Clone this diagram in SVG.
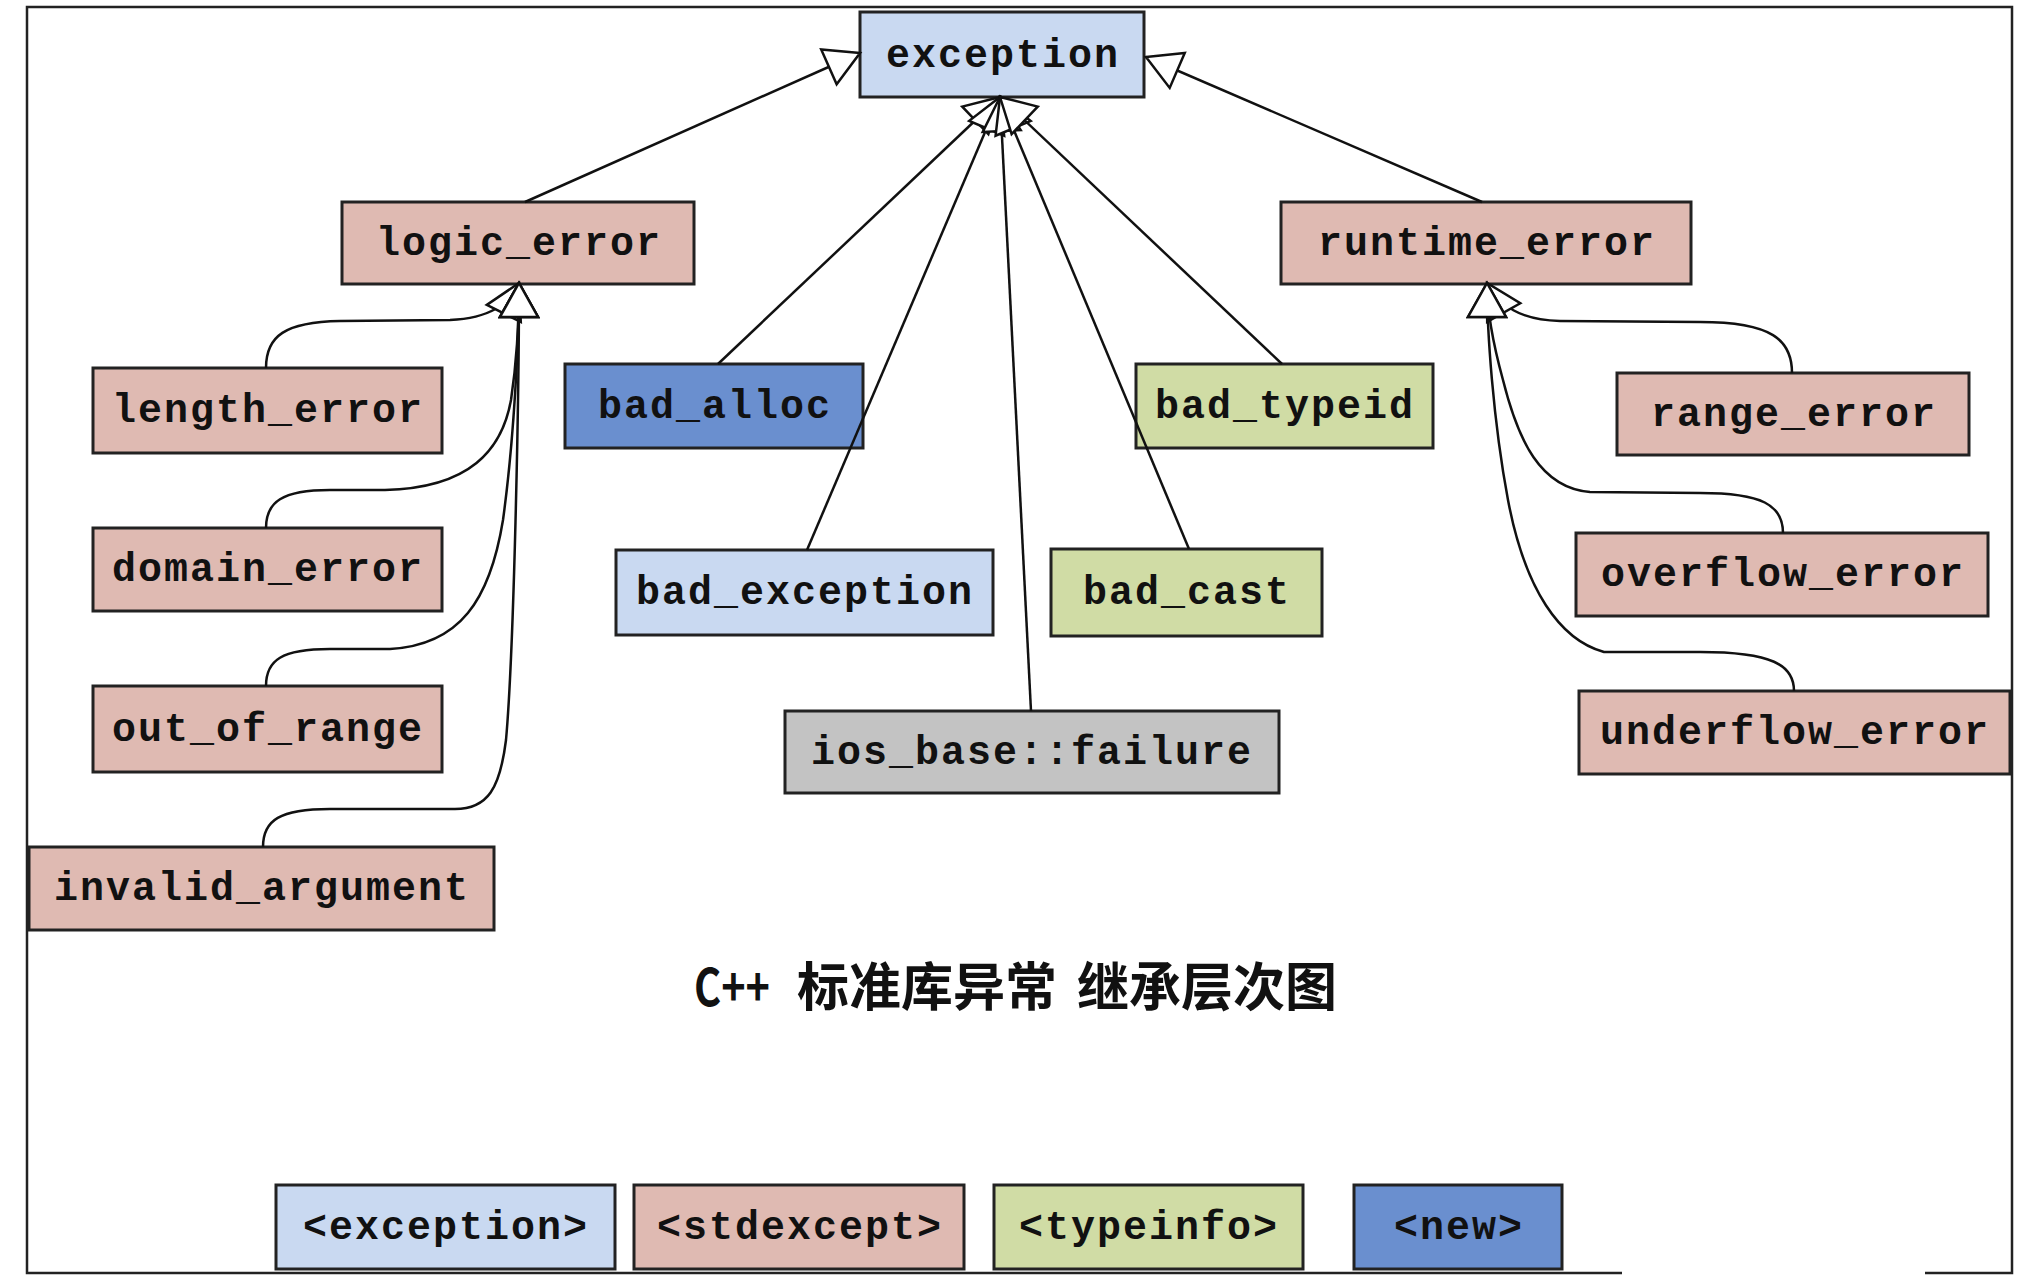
<svg xmlns="http://www.w3.org/2000/svg" width="2038" height="1288" viewBox="0 0 2038 1288">
<style>
.box{stroke:#222;stroke-width:3}
.lb{fill:#c9d9f1}
.pk{fill:#dfbab2}
.gr{fill:#d0dca5}
.bl{fill:#6a8fcf}
.gy{fill:#c3c3c3}
.t{font-family:"Liberation Mono","DejaVu Sans Mono",monospace;font-weight:700;font-size:40px;letter-spacing:2px;fill:#111;text-anchor:middle}
.e{fill:none;stroke:#111;stroke-width:2.5;marker-end:url(#tri)}
.title{font-family:"Noto Sans CJK SC","Noto Sans",sans-serif;font-weight:700;font-size:52px;fill:#111}
</style>
<defs>
<marker id="tri" markerUnits="userSpaceOnUse" viewBox="-38 -22 41 44" markerWidth="41" markerHeight="44" refX="0" refY="0" orient="auto">
<path d="M0,0 L-34,-19 L-34,19 Z" fill="#fff" stroke="#111" stroke-width="2.5" stroke-linejoin="miter"/>
</marker>
</defs>
<rect width="2038" height="1288" fill="#fff"/>
<path d="M1622,1273 L27,1273 L27,7 L2012,7 L2012,1273 L1925,1273" fill="none" stroke="#222" stroke-width="2.5"/>

<g id="nodes">
<g id="n-exception"><rect class="box lb" x="860" y="12" width="284" height="85"/><text class="t" x="1003" y="67">exception</text></g>
<g id="n-logic_error"><rect class="box pk" x="342" y="202" width="352" height="82"/><text class="t" x="519" y="255">logic_error</text></g>
<g id="n-runtime_error"><rect class="box pk" x="1281" y="202" width="410" height="82"/><text class="t" x="1487" y="255">runtime_error</text></g>
<g id="n-length_error"><rect class="box pk" x="93" y="368" width="349" height="85"/><text class="t" x="268" y="422">length_error</text></g>
<g id="n-domain_error"><rect class="box pk" x="93" y="528" width="349" height="83"/><text class="t" x="268" y="581">domain_error</text></g>
<g id="n-out_of_range"><rect class="box pk" x="93" y="686" width="349" height="86"/><text class="t" x="268" y="741">out_of_range</text></g>
<g id="n-invalid_argument"><rect class="box pk" x="29" y="847" width="465" height="83"/><text class="t" x="262" y="900">invalid_argument</text></g>
<g id="n-bad_alloc"><rect class="box bl" x="565" y="364" width="298" height="84"/><text class="t" x="715" y="418">bad_alloc</text></g>
<g id="n-bad_exception"><rect class="box lb" x="616" y="550" width="377" height="85"/><text class="t" x="805" y="604">bad_exception</text></g>
<g id="n-ios_base_failure"><rect class="box gy" x="785" y="711" width="494" height="82"/><text class="t" x="1032" y="764">ios_base::failure</text></g>
<g id="n-bad_cast"><rect class="box gr" x="1051" y="549" width="271" height="87"/><text class="t" x="1187" y="604">bad_cast</text></g>
<g id="n-bad_typeid"><rect class="box gr" x="1136" y="364" width="297" height="84"/><text class="t" x="1285" y="418">bad_typeid</text></g>
<g id="n-range_error"><rect class="box pk" x="1617" y="373" width="352" height="82"/><text class="t" x="1794" y="426">range_error</text></g>
<g id="n-overflow_error"><rect class="box pk" x="1576" y="533" width="412" height="83"/><text class="t" x="1783" y="586">overflow_error</text></g>
<g id="n-underflow_error"><rect class="box pk" x="1579" y="691" width="431" height="83"/><text class="t" x="1795" y="744">underflow_error</text></g>
</g>

<g id="connectors">
<path class="e" d="M525,202 L860,53"/>
<path class="e" d="M1482,202 L1146,57"/>
<path class="e" d="M718,364 L1000,97"/>
<path class="e" d="M807,550 L1000,97"/>
<path class="e" d="M1031,711 L1000,97"/>
<path class="e" d="M1189,549 L1000,97"/>
<path class="e" d="M1282,364 L1000,97"/>
<path class="e" d="M266,368 C266,336 285,322 340,321 L450,320 C490,318 508,305 519,283"/>
<path class="e" d="M266,528 C266,502 282,490 330,490 L385,490 C470,488 502,450 511,400 C517,360 519,320 519,283"/>
<path class="e" d="M266,686 C266,660 282,649 330,649 L390,649 C460,645 490,600 503,520 C514,440 519,340 519,283"/>
<path class="e" d="M263,847 C263,820 280,809 330,809 L455,809 C488,809 500,788 506,740 C514,650 519,400 519,283"/>
<path class="e" d="M1792,373 C1792,340 1772,322 1700,322 L1560,321 C1520,320 1500,306 1487,283"/>
<path class="e" d="M1783,533 C1783,505 1762,493 1700,493 L1590,492 C1540,488 1518,440 1503,380 C1492,340 1487,310 1487,283"/>
<path class="e" d="M1794,691 C1794,665 1772,652 1700,652 L1604,652 C1560,640 1525,590 1508,500 C1493,420 1487,330 1487,283"/>
</g>

<g id="title">
<text class="title" y="1006"><tspan x="694" textLength="76" lengthAdjust="spacingAndGlyphs">C++</tspan><tspan x="797">标准库异常</tspan><tspan x="1077">继承层次图</tspan></text>
</g>

<g id="legend">
<g id="l-exception"><rect class="box lb" x="276" y="1185" width="339" height="84"/><text class="t" x="446" y="1239">&lt;exception&gt;</text></g>
<g id="l-stdexcept"><rect class="box pk" x="634" y="1185" width="330" height="84"/><text class="t" x="800" y="1239">&lt;stdexcept&gt;</text></g>
<g id="l-typeinfo"><rect class="box gr" x="994" y="1185" width="309" height="84"/><text class="t" x="1149" y="1239">&lt;typeinfo&gt;</text></g>
<g id="l-new"><rect class="box bl" x="1354" y="1185" width="208" height="84"/><text class="t" x="1459" y="1239">&lt;new&gt;</text></g>
</g>
</svg>
